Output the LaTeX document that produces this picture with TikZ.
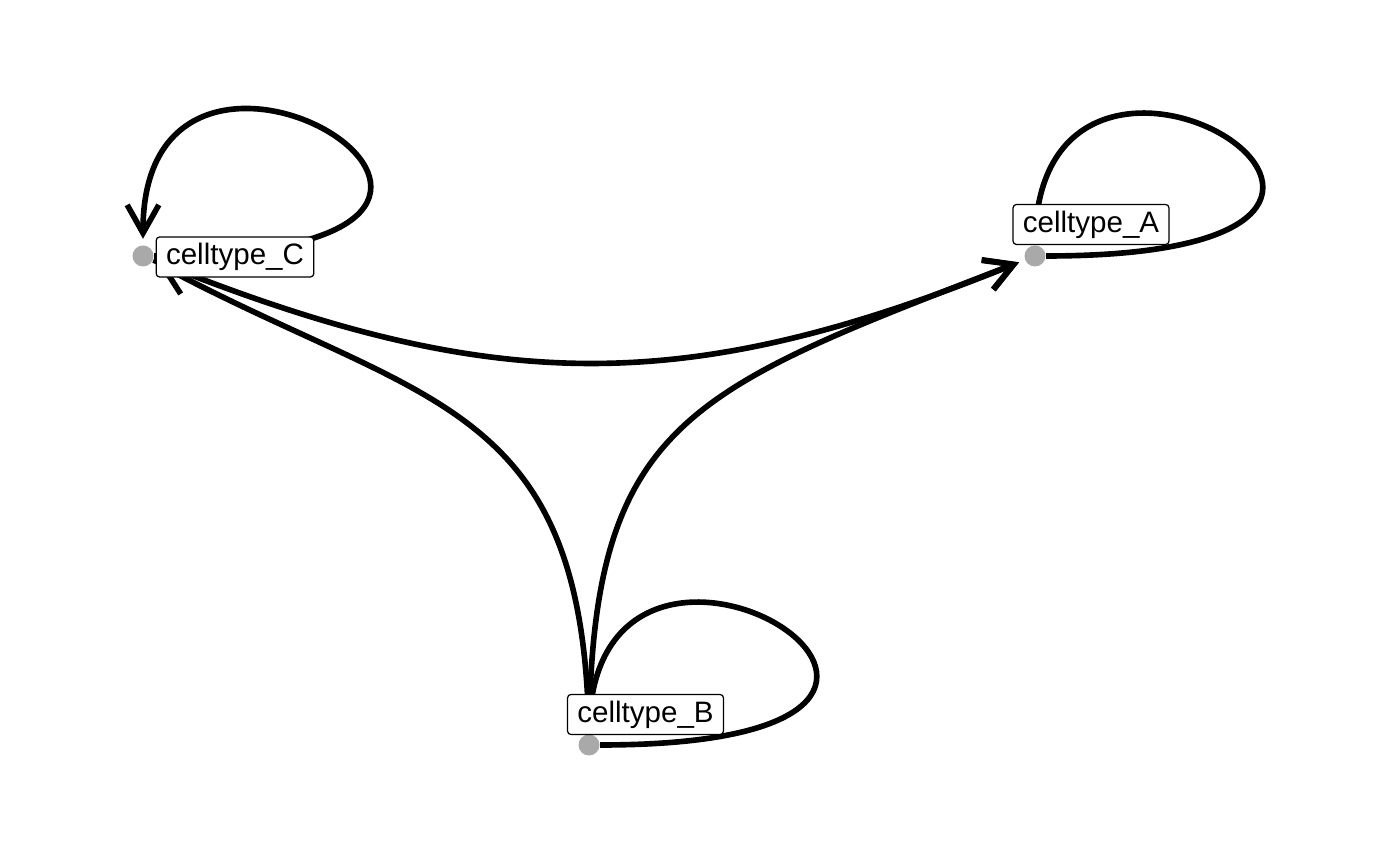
\documentclass[tikz,border=0pt]{standalone}
\usepackage{fontspec}
\setmainfont{Liberation Sans}
\usetikzlibrary{arrows.meta,backgrounds}
\definecolor{dotgray}{HTML}{A9A9A9}

\begin{document}
\begin{tikzpicture}[x=0.01cm, y=-0.01cm,
    celldot/.style={circle, fill=dotgray, minimum size=0.21cm, inner sep=0pt},
    cellbox/.style={draw, fill=white, rounded corners=1pt, line width=0.35pt,
        font=\fontsize{8.4}{10}\selectfont, inner xsep=2.8pt, inner ysep=1.75pt,
        text height=6.1pt, text depth=1.8pt},
    edge/.style={line width=1.6pt},
    arrowedge/.style={edge, -{Straight Barb[length=8pt, width=9pt]}, shorten >=0.06cm}]

    \useasboundingbox (0,0) rectangle (1400,865);

    % cell types
    \node[celldot] (C) at (143,256) {};
    \node[celldot] (A) at (1035,256) {};
    \node[celldot] (B) at (589,745) {};

    % labels
    \node[cellbox] (labC) at (235,257) {celltype\_C};
    \node[cellbox] (labA) at (1091,224.5) {celltype\_A};
    \node[cellbox] (labB) at (645.5,714.5) {celltype\_B};

    \begin{scope}[on background layer]
        % self loops
        \draw[arrowedge] (C) .. controls +(505,0) and +(0,-314) .. (C);
        \draw[edge] (A) .. controls +(505,0) and +(0,-314) .. (A);
        \draw[edge] (B) .. controls +(505,0) and +(0,-314) .. (B);

        % arcs between cell types
        \draw[arrowedge] (C) .. controls +(350,141) and +(-350,141) .. (A);
        \draw[arrowedge] (B) .. controls +(3,-325) and +(-345,134) .. (A);
        \draw[arrowedge] (B) .. controls +(-5,-345) and +(282.5,150) .. (C);
    \end{scope}
\end{tikzpicture}
\end{document}
